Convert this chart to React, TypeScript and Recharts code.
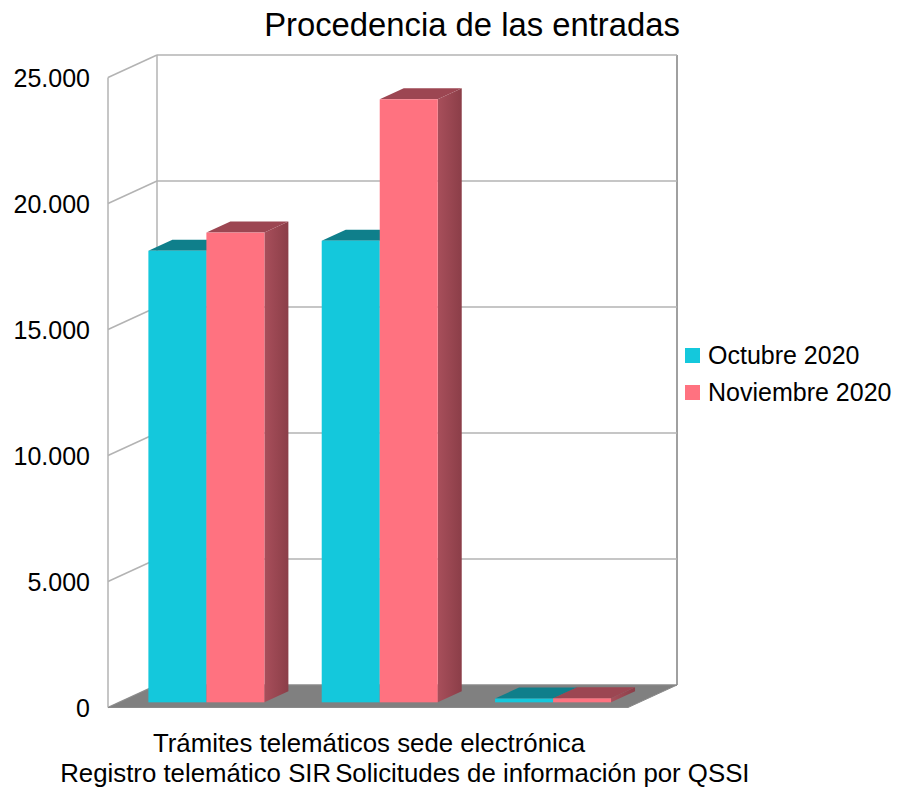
import React from 'react';
import { BarChart, Bar, XAxis, YAxis, CartesianGrid, Legend, Customized } from 'recharts';

const categories = [
  'Registro telemático SIR',
  'Trámites telemáticos sede electrónica',
  'Solicitudes de información por QSSI',
];
const octubre2020 = [17920, 18320, 150];
const noviembre2020 = [18640, 23930, 160];
const seriesNames = ['Octubre 2020', 'Noviembre 2020'];
const yTicks = [0, 5000, 10000, 15000, 20000, 25000];
const title = 'Procedencia de las entradas';

const data = categories.map((name, i) => ({ name, oct: octubre2020[i], nov: noviembre2020[i] }));

const W = 898;
const H = 789;
const DX = -49;
const DY = 22.5;
const S_FRONT = 0.77;
const S_BACK = 0.28;
const FONT = '"Liberation Sans", Arial, sans-serif';
const GRID = '#b3b3b3';
const CYAN = '#14C8DC';
const CYAN_TOP = '#0F7F8B';
const PINK = '#FF7280';
const PINK_TOP = '#9C4652';

const fmt = (v: number) => String(v).replace(/\B(?=(\d{3})+(?!\d))/g, '.');

function GridLine(props: any) {
  const { x1, y1, x2, y2, y, height } = props;
  const top = typeof y === 'number' ? y : 55;
  const bottom = typeof height === 'number' ? top + height : 685;
  const isBottom = Math.abs(y1 - bottom) < 0.5;
  return (
    <g>
      <line x1={x1} y1={y1} x2={x2} y2={y2} stroke={GRID} strokeWidth={1.5} />
      <line x1={x1} y1={y1} x2={x1 + DX} y2={y1 + DY} stroke={GRID} strokeWidth={1.5} />
      {isBottom && (
        <g>
          <line x1={x1} y1={top} x2={x1} y2={bottom} stroke={GRID} strokeWidth={1.5} />
          <line x1={x2} y1={top} x2={x2} y2={bottom} stroke="#a0a0a0" strokeWidth={2} />
          <line x1={x1 + DX} y1={top + DY} x2={x1 + DX} y2={bottom + DY} stroke={GRID} strokeWidth={1.5} />
          <polygon
            points={`${x1 + DX},${bottom + DY} ${x2 + DX},${bottom + DY} ${x2},${bottom} ${x1},${bottom}`}
            fill="#808080"
            stroke="#8a8a8a"
            strokeWidth={1}
          />
        </g>
      )}
    </g>
  );
}

function YTick(props: any) {
  const { x, y, payload } = props;
  return (
    <text x={x - 67} y={y + DY + 9} textAnchor="end" fontSize={25} fontFamily={FONT} fill="#000">
      {fmt(payload.value)}
    </text>
  );
}

function XTick(props: any) {
  const { x, y, payload, index } = props;
  const off = index % 2 === 1 ? 67 : 97;
  return (
    <text x={x + DX + 1} y={y + off} textAnchor="middle" fontSize={25.8} fontFamily={FONT} fill="#000">
      {payload.value}
    </text>
  );
}

function Bar3D(props: any) {
  const { x, y, width: w, height: h, front, topColor, g1, g2, gid } = props;
  if (w == null || h == null) return null;
  const fx = x + S_FRONT * DX;
  const fy = y + S_FRONT * DY;
  const bx = x + S_BACK * DX;
  const by = y + S_BACK * DY;
  return (
    <g>
      <defs>
        <linearGradient id={gid} x1="0" y1="0" x2="1" y2="0">
          <stop offset="0%" stopColor={g1} />
          <stop offset="100%" stopColor={g2} />
        </linearGradient>
      </defs>
      <polygon
        points={`${fx + w},${fy} ${bx + w},${by} ${bx + w},${by + h} ${fx + w},${fy + h}`}
        fill={`url(#${gid})`}
      />
      <polygon points={`${fx},${fy} ${fx + w},${fy} ${bx + w},${by} ${bx},${by}`} fill={topColor} />
      <rect x={fx} y={fy} width={w} height={h} fill={front} />
    </g>
  );
}

function LegendBox() {
  const colors = [CYAN, PINK];
  return (
    <div style={{ fontFamily: FONT, fontSize: 25, color: '#000' }}>
      {seriesNames.map((n, i) => (
        <div key={n} style={{ display: 'flex', alignItems: 'center', height: 37 }}>
          <span style={{ display: 'inline-block', width: 15, height: 15, background: colors[i], marginRight: 8 }} />
          <span style={{ whiteSpace: 'nowrap' }}>{n}</span>
        </div>
      ))}
    </div>
  );
}

function Title() {
  return (
    <text x={472} y={36} textAnchor="middle" fontSize={32.8} fontFamily={FONT} fill="#000">
      {title}
    </text>
  );
}

export default function App() {
  return (
    <div style={{ position: 'absolute', left: 0, top: 0, width: W, height: H, background: '#fff' }}>
      <BarChart
        width={W}
        height={H}
        data={data}
        margin={{ top: 55, right: 221, bottom: 4, left: 0 }}
        barGap={0}
        barCategoryGap="16.8%"
      >
        <CartesianGrid vertical={false} horizontal={(p: any) => <GridLine {...p} />} />
        <XAxis
          dataKey="name"
          axisLine={false}
          tickLine={false}
          tickSize={0}
          tickMargin={0}
          height={100}
          interval={0}
          tick={<XTick />}
        />
        <YAxis
          domain={[0, 25000]}
          ticks={yTicks}
          axisLine={false}
          tickLine={false}
          tickSize={0}
          tickMargin={0}
          width={157}
          interval={0}
          tick={<YTick />}
        />
        <Bar
          dataKey="oct"
          name={seriesNames[0]}
          fill={CYAN}
          isAnimationActive={false}
          shape={(p: any) => (
            <Bar3D {...p} front={CYAN} topColor={CYAN_TOP} g1="#109aa8" g2="#0b6f7a" gid="gradCyan" />
          )}
        />
        <Bar
          dataKey="nov"
          name={seriesNames[1]}
          fill={PINK}
          isAnimationActive={false}
          shape={(p: any) => (
            <Bar3D {...p} front={PINK} topColor={PINK_TOP} g1="#a84f5b" g2="#8b3e48" gid="gradPink" />
          )}
        />
        <Legend
          layout="vertical"
          align="center"
          verticalAlign="middle"
          wrapperStyle={{ position: 'absolute', left: 685, top: 337, width: 213 }}
          content={() => <LegendBox />}
        />
        <Customized component={<Title />} />
      </BarChart>
    </div>
  );
}
